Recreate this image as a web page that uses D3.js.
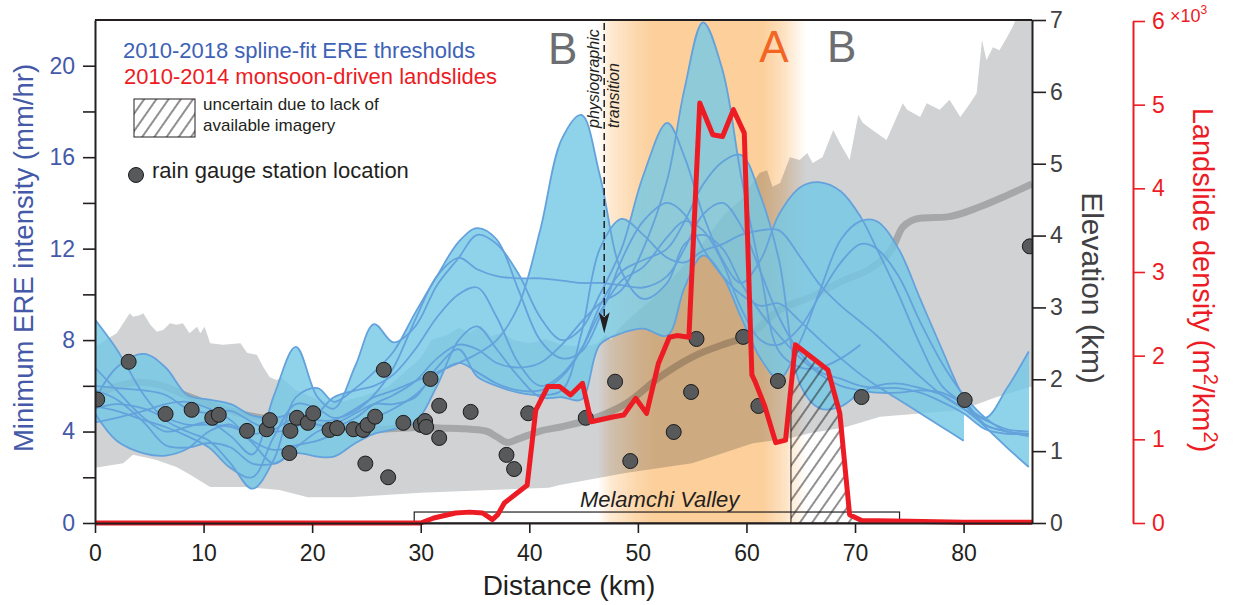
<!DOCTYPE html>
<html>
<head>
<meta charset="utf-8">
<title>ERE thresholds and landslide density along the profile</title>
<script src="https://cdnjs.cloudflare.com/ajax/libs/d3/7.8.5/d3.min.js"></script>
<style>
  body { margin: 0; background: #fff; }
  svg { display: block; font-family: "Liberation Sans", Arial, sans-serif; }
</style>
</head>
<body>
<svg id="chart" width="1239" height="605"></svg>
<script>
// ---- values ----

// common knots (km) for the spline-fit threshold curves
const knotKm = [0, 2, 4.5, 6.5, 8.5, 10.5, 12.5, 14.5, 16.5, 18.5, 20.5, 22, 24, 25.7, 27.5, 29.5, 31.5, 33.5, 35.2, 37,
  39, 41, 43, 44.8, 46.5, 48.5, 50.5, 52.7, 54.3, 56, 57.8, 59.5, 61.3, 63, 65, 66.8, 68.7, 70.5, 72, 74,
  76, 78, 80, 82, 84, 86];

// minimum ERE intensity (mm/hr), one curve per year
const ere2010 = [5.0, 5.2, 5.0, 4.6, 4.3, 4.3, 4.2, 3.9, 4.1, 4.6, 4.3, 4.2, 4.6, 5.2, 5.6, 6.2, 7.2, 7.8, 7.6, 7.0,
  6.8, 7.0, 7.8, 8.8, 9.6, 10.2, 12.0, 15.0, 19.0, 21.9, 19.8, 15.2, 11.0, 7.5, 6.8, 6.8, 7.2, 7.8, null, null,
  null, null, null, null, null, null];
const ere2011 = [5.4, 6.8, 7.4, 6.8, 5.6, 5.4, 5.2, 4.7, 4.6, 4.8, 4.5, 4.5, 5.0, 5.5, 5.8, 6.2, 6.6, 7.0, 7.4, 8.0,
  9.5, 12.8, 16.8, 17.85, 15.2, 11.0, 9.8, 10.5, 12.2, 12.6, 12.0, 10.5, 9.2, 8.2, 7.2, 6.5, 6.0, 5.8, 5.7, 5.7,
  5.8, 5.7, 5.2, 4.6, 5.9, 7.5];
const ere2012 = [8.9, 7.6, 5.6, 4.5, 4.0, 3.6, 2.6, 1.5, 2.8, 5.5, 5.9, 5.3, 5.9, 6.6, 7.5, 9.2, 10.8, 12.3, 12.9, 12.4,
  10.2, 8.0, 7.2, 7.5, 9.0, 11.5, 13.2, 14.0, 13.5, 12.0, 10.8, 10.0, 9.5, 9.6, 8.8, 8.0, 7.2, 6.5, 6.0, 5.4,
  4.8, 4.2, 3.6, null, null, null];
const ere2013 = [6.8, 5.8, 4.6, 4.0, 4.2, 4.4, 3.8, 3.0, 5.6, 7.7, 5.5, 5.0, 6.9, 8.7, 7.9, 8.6, 10.4, 11.6, 12.6, 12.2,
  10.9, 9.0, 8.0, 8.5, 10.0, 12.0, 15.2, 17.5, 16.0, 13.5, 11.5, 10.5, 11.5, 13.5, 14.7, 14.9, 14.5, 13.4, 12.0, 10.0,
  7.8, 6.0, 5.2, 4.2, 3.3, 2.45];
const ere2014 = [4.4, 4.6, 4.9, 5.2, 5.3, 5.0, 4.5, 3.6, 3.2, 3.4, 3.6, 3.9, 4.3, 4.6, 5.0, 5.6, 6.5, 7.0, 6.6, 6.1,
  5.8, 5.8, 6.4, 7.6, 9.5, 11.0, 11.5, 12.0, 13.2, 14.8, 15.8, 16.1, 14.3, 11.5, 6.0, 5.0, 5.1, 5.7, 6.0, 6.1,
  5.9, 5.6, 5.0, 4.3, 4.0, 3.9];
const ere2015 = [5.8, 5.4, 4.4, 3.4, 3.3, 3.5, 3.3, 2.6, 2.6, 3.05, 2.9, 2.9, 3.5, 3.9, 4.1, 4.4, 6.0, 8.0, 8.6, 7.6,
  6.4, 5.5, 5.5, 5.4, 7.8, 8.3, 8.5, 8.2, 10.3, 11.7, 10.8, 9.0, 7.2, 6.3, 8.0, 10.2, 12.4, 13.2, 13.2, 12.0,
  9.8, 7.6, 5.5, 4.3, 4.0, 3.8];
const ere2016 = [5.1, 4.9, 4.5, 4.2, 3.8, 3.3, 2.4, 2.0, 3.8, 5.2, 5.0, 4.6, 4.9, 5.6, 6.8, 8.9, 10.8, 11.6, 11.1, 10.8,
  10.7, 10.7, 10.6, 10.5, 10.5, 10.4, 10.3, 10.8, 12.0, 13.5, 14.0, 13.0, 11.0, 9.0, 7.4, 6.6, 6.3, 6.0, 5.9, 5.9,
  5.7, 5.3, 4.8, 4.1, 3.9, 3.9];
const ere2017 = [4.8, 3.6, 3.05, 2.95, 3.25, 4.0, 4.3, 3.5, 2.6, 3.3, 4.0, 4.3, 4.8, 5.2, 5.2, 5.5, 6.8, 7.6, 6.4, 6.0,
  5.7, 5.6, 5.8, 8.3, 12.0, 13.3, 12.6, 11.6, 11.4, 11.9, 12.2, 12.6, 12.8, 12.8, 11.6, 10.4, 9.5, 8.8, 8.2, 7.3,
  6.4, 5.6, 5.0, 4.5, 4.1, 4.0];
const ere2018 = [6.0, 5.9, 5.8, 5.6, 5.0, 4.8, 4.9, 4.4, 4.0, 4.2, 4.8, 5.5, 5.8, 6.0, 6.5, 7.6, 9.0, 10.0, 10.3, 9.0,
  7.0, 6.0, 6.5, 7.6, 9.2, 10.6, 11.2, 12.5, 13.2, 12.8, 11.4, 9.4, 8.0, 7.8, 8.6, 10.0, 11.4, 12.2, 12.0, 10.8,
  8.8, 7.0, 5.6, 4.6, 4.0, 3.9];
const ereCurves = [ere2010, ere2011, ere2012, ere2013, ere2014, ere2015, ere2016, ere2017, ere2018];

// rain gauge stations
const stationKm = [0.2, 3.1, 6.5, 8.9, 10.8, 11.4, 14.0, 15.8, 16.1, 17.9, 18.0, 18.6, 19.6, 20.1, 21.6, 22.3, 23.8,
  24.7, 25.1, 24.9, 25.8, 26.6, 27.0, 28.4, 30.0, 30.4, 30.5, 30.9, 31.7, 31.7, 34.6, 37.9, 38.6, 39.9, 45.2, 47.9,
  49.3, 53.3, 54.9, 55.4, 59.7, 61.1, 62.9, 70.6, 80.1, 86.1];
const stationEre = [5.4, 7.05, 4.77, 4.95, 4.6, 4.73, 4.03, 4.1, 4.5, 3.06, 4.03, 4.6, 4.38, 4.8, 4.07, 4.15, 4.1,
  4.07, 4.29, 2.6, 4.65, 6.7, 2.0, 4.38, 4.29, 4.46, 4.2, 6.3, 5.13, 3.72, 4.86, 2.98, 2.36, 4.8, 4.6, 6.18,
  2.71, 3.98, 5.73, 8.05, 8.14, 5.12, 6.21, 5.51, 5.38, 12.1];

// landslide density (m2/km2)
const slideKm = [0, 30, 31.2, 33.2, 34.5, 35.7, 36.6, 37.1, 37.7, 38.7, 39.8, 40.6, 41.7, 42.8, 43.8, 44.9, 45.7, 47.8,
  48.7, 49.8, 50.8, 51.9, 52.9, 53.6, 54.7, 55.7, 56.9, 57.8, 58.8, 59.8, 60.5, 60.8, 61.7, 62.7, 63.6, 64.5, 66.3,
  67.5, 68.6, 69.5, 70.6, 75, 80, 86.3];
const slideDensity = [0, 0, 60, 120, 130, 120, 40, 100, 240, 340, 450, 1350, 1630, 1630, 1530, 1670, 1210, 1270,
  1290, 1490, 1310, 1910, 2220, 2240, 2220, 5020, 4640, 4620, 4940, 4660, 1770, 1690, 1390, 960, 990, 2130, 1950,
  1830, 1310, 100, 30, 20, 10, 10];

// elevation swath (km)
const elevTopKm = [0, 1, 2, 3.2, 3.5, 4.1, 4.45, 5.1, 5.7, 6.3, 6.9, 7.5, 8.1, 8.7, 9.4, 9.7, 10.1, 10.6, 11.8, 13.4,
  14.0, 14.9, 15.5, 16.1, 16.7, 17.2, 18.5, 20, 21.6, 23, 25, 27, 28.5, 30, 31, 32.5, 33.5, 34.5, 35.5, 36.5,
  37.5, 38.5, 40, 41.5, 43, 45, 46.3, 47, 47.5, 48.5, 50, 52, 54, 56, 58, 59.5, 61.2, 61.9, 62.4, 63.1,
  64, 64.9, 65.6, 66.1, 67, 68, 68.6, 69.5, 70.3, 70.7, 71.6, 72.9, 73.2, 74.4, 74.8, 76, 76.6, 77.8, 78.7, 79.7,
  80.6, 81.2, 81.7, 82.1, 82.7, 83.3, 84, 84.5, 84.9, 86.3];
const elevTop = [2.45, 2.55, 2.64, 2.92, 2.87, 2.89, 2.92, 2.76, 2.66, 2.69, 2.78, 2.76, 2.78, 2.64, 2.73, 2.64, 2.73,
  2.5, 2.48, 2.5, 2.37, 2.34, 2.17, 2.03, 1.99, 2.02, 1.85, 1.75, 1.67, 1.7, 1.78, 1.9, 2.1, 2.3, 2.55, 2.62, 2.72,
  2.65, 2.75, 2.6, 2.65, 2.55, 2.5, 2.56, 2.48, 2.45, 2.5, 2.62, 2.55, 2.75, 2.95, 3.2, 3.55, 3.9, 4.3, 4.5, 4.87,
  4.91, 4.68, 4.73, 5.09, 5.05, 5.15, 5.01, 5.09, 5.47, 5.29, 5.05, 5.68, 5.57, 5.47, 5.33, 5.43, 5.84, 5.75, 5.65,
  5.84, 5.75, 5.89, 5.65, 5.84, 5.98, 6.72, 6.44, 6.62, 6.58, 6.76, 6.9, 7.04, 7.4];
const elevBottomKm = [0, 2.6, 3.5, 5.6, 7.5, 8.7, 10.6, 13.8, 17, 19.6, 23.5, 30, 36.4, 41.8, 42.8, 49, 55, 60.6, 64,
  65.8, 69, 72.3, 79.7, 83, 86.3];
const elevBottom = [0.77, 0.83, 0.95, 0.88, 0.78, 0.68, 0.5, 0.5, 0.46, 0.36, 0.36, 0.42, 0.46, 0.49, 0.53, 0.7, 0.83,
  1.11, 1.18, 1.25, 1.33, 1.48, 1.57, 1.75, 1.9];
const elevMeanKm = [0, 2, 4, 6, 8, 10, 12, 14, 16, 18, 20, 22, 24, 26, 28, 30, 32, 34, 36, 37, 38, 39, 41, 43, 46, 49,
  52, 55, 58.2, 60, 63, 66, 69, 71.6, 73.5, 74.4, 76, 78.5, 81.5, 84, 86.3];
const elevMean = [1.78, 1.9, 1.96, 1.92, 1.8, 1.68, 1.58, 1.5, 1.45, 1.42, 1.38, 1.35, 1.32, 1.3, 1.32, 1.33, 1.32,
  1.31, 1.28, 1.2, 1.12, 1.17, 1.28, 1.34, 1.46, 1.67, 2.03, 2.31, 2.5, 2.59, 2.96, 3.15, 3.38, 3.56, 3.84, 4.12,
  4.24, 4.26, 4.4, 4.56, 4.72];

// zone A shading (km) and its fade
const bandKm = [46.3, 47.5, 50, 51.5, 61.5, 63.5, 65.5];
const bandAlpha = [0, 0.45, 0.85, 1, 1, 0.6, 0];

const valleyKm = [29.4, 74.1];
const hatchKm = [64.1, 74];
const transitionKm = 46.9;

const xTicks = [0, 10, 20, 30, 40, 50, 60, 70, 80];
const ereTicks = [0, 2, 4, 6, 8, 10, 12, 14, 16, 18, 20];
const elevTicks = [0, 1, 2, 3, 4, 5, 6, 7];
const densityTicks = [0, 1000, 2000, 3000, 4000, 5000, 6000];

// ---- scales ----
const svg = d3.select('#chart');
const plot = { left: 95, right: 1032, top: 20, bottom: 523 };
const x = d3.scaleLinear([0, 86.3], [plot.left, plot.right]);
const yEre = d3.scaleLinear([0, 22], [plot.bottom, plot.top]);
const yElev = d3.scaleLinear([0, 7], [plot.bottom, plot.top]);
const yDen = d3.scaleLinear([0, 6000], [plot.bottom, 21]);

const ink = '#231f20';
const blueText = '#4459a8';
const red = '#ed1c24';

// ---- defs ----
const defs = svg.append('defs');
defs.append('clipPath').attr('id', 'plotClip')
  .append('rect').attr('x', plot.left).attr('y', plot.top)
  .attr('width', plot.right - plot.left).attr('height', plot.bottom - plot.top);

const hatch = defs.append('pattern').attr('id', 'hatch')
  .attr('patternUnits', 'userSpaceOnUse').attr('width', 10).attr('height', 10)
  .attr('patternTransform', 'rotate(35)');
hatch.append('line').attr('x1', 5).attr('y1', -1).attr('x2', 5).attr('y2', 11)
  .attr('stroke', ink).attr('stroke-width', 1);

const grad = defs.append('linearGradient').attr('id', 'bandGrad')
  .attr('gradientUnits', 'userSpaceOnUse')
  .attr('x1', x(bandKm[0])).attr('x2', x(bandKm[bandKm.length - 1])).attr('y1', 0).attr('y2', 0);
bandKm.forEach((k, i) => {
  grad.append('stop')
    .attr('offset', (k - bandKm[0]) / (bandKm[bandKm.length - 1] - bandKm[0]))
    .attr('stop-color', '#fccf9b').attr('stop-opacity', bandAlpha[i]);
});

const slideArea = d3.area()
  .x((d, i) => x(slideKm[i])).y0(yDen(0)).y1((d, i) => yDen(slideDensity[i]));
defs.append('clipPath').attr('id', 'hatchClip')
  .append('path').attr('d', slideArea(slideKm));

const plotG = svg.append('g').attr('clip-path', 'url(#plotClip)');

// 1. elevation swath
const swathPts = elevTopKm.map((k, i) => [x(k), yElev(elevTop[i])])
  .concat(elevBottomKm.map((k, i) => [x(k), yElev(elevBottom[i])]).reverse());
plotG.append('path').attr('d', d3.line()(swathPts) + 'Z').attr('fill', '#d1d2d4');

// mean elevation
plotG.append('path')
  .attr('d', d3.line().x((d, i) => x(elevMeanKm[i])).y((d, i) => yElev(elevMean[i]))
    .curve(d3.curveMonotoneX)(elevMeanKm))
  .attr('fill', 'none').attr('stroke', '#a6a7a9').attr('stroke-width', 7)
  .attr('stroke-linejoin', 'round');

// 2. zone A band
plotG.append('rect')
  .attr('x', x(bandKm[0])).attr('y', plot.top)
  .attr('width', x(bandKm[bandKm.length - 1]) - x(bandKm[0])).attr('height', plot.bottom - plot.top)
  .attr('fill', 'url(#bandGrad)').style('mix-blend-mode', 'multiply');

// 3. envelope of the threshold curves: union of the areas between every pair
const curve = d3.curveCatmullRom;
const fillG = plotG.append('g').attr('opacity', 0.8);
for (let a = 0; a < ereCurves.length; a++) {
  for (let b = a + 1; b < ereCurves.length; b++) {
    const ca = ereCurves[a], cb = ereCurves[b];
    const area = d3.area()
      .defined((d, i) => ca[i] != null && cb[i] != null)
      .x((d, i) => x(knotKm[i]))
      .y0((d, i) => yEre(ca[i]))
      .y1((d, i) => yEre(cb[i]))
      .curve(curve);
    fillG.append('path').attr('d', area(knotKm)).attr('fill', '#73c9e7');
  }
}

const ereLine = d3.line()
  .defined(v => v != null)
  .x((v, i) => x(knotKm[i]))
  .y(v => yEre(v))
  .curve(curve);
plotG.append('g').selectAll('path').data(ereCurves).join('path')
  .attr('d', ereLine)
  .attr('fill', 'none').attr('stroke', '#64a2dc').attr('stroke-width', 1.8);

// 4. hatched uncertain zone
const hatchG = plotG.append('g').attr('clip-path', 'url(#hatchClip)');
hatchG.append('rect')
  .attr('x', x(hatchKm[0])).attr('y', plot.top)
  .attr('width', x(hatchKm[1]) - x(hatchKm[0])).attr('height', plot.bottom - plot.top)
  .attr('fill', 'url(#hatch)');
hatchG.append('line')
  .attr('x1', x(hatchKm[0])).attr('x2', x(hatchKm[0]))
  .attr('y1', plot.bottom).attr('y2', plot.top)
  .attr('stroke', ink).attr('stroke-width', 1);

// 5. Melamchi Valley
svg.append('rect')
  .attr('x', x(valleyKm[0])).attr('y', yEre(0.48))
  .attr('width', x(valleyKm[1]) - x(valleyKm[0])).attr('height', yEre(0) - yEre(0.48))
  .attr('fill', 'none').attr('stroke', ink).attr('stroke-width', 1.2);
svg.append('text')
  .attr('x', x(52)).attr('y', 507)
  .attr('text-anchor', 'middle').attr('font-style', 'italic').attr('font-size', 22).attr('fill', ink)
  .text('Melamchi Valley');

// 6. landslide density
svg.append('path')
  .attr('d', d3.line().x((d, i) => x(slideKm[i])).y((d, i) => yDen(slideDensity[i]))(slideKm))
  .attr('fill', 'none').attr('stroke', red).attr('stroke-width', 5)
  .attr('stroke-linejoin', 'round');

// 7. rain gauges
plotG.append('g').selectAll('circle').data(stationKm).join('circle')
  .attr('cx', d => x(d)).attr('cy', (d, i) => yEre(stationEre[i])).attr('r', 7.5)
  .attr('fill', '#58595b').attr('stroke', '#1a1a1a').attr('stroke-width', 1);

// 8. physiographic transition
const ax = x(transitionKm);
const tipY = yEre(8.3);
svg.append('line')
  .attr('x1', ax).attr('x2', ax).attr('y1', plot.top + 3).attr('y2', tipY - 16)
  .attr('stroke', ink).attr('stroke-width', 1.5).attr('stroke-dasharray', '7,4');
svg.append('path')
  .attr('d', `M${ax},${tipY} L${ax - 5.5},${tipY - 21} L${ax},${tipY - 16} L${ax + 5.5},${tipY - 21} Z`)
  .attr('fill', ink);
svg.append('text').attr('transform', 'translate(599,128) rotate(-90)')
  .attr('font-style', 'italic').attr('font-size', 16).attr('fill', ink).text('physiographic');
svg.append('text').attr('transform', 'translate(619,128) rotate(-90)')
  .attr('font-style', 'italic').attr('font-size', 16).attr('fill', ink).text('transition');

// zone letters
svg.append('text').attr('x', 548).attr('y', 64).attr('font-size', 44).attr('fill', '#6d6e71').text('B');
svg.append('text').attr('x', 774).attr('y', 62).attr('text-anchor', 'middle')
  .attr('font-size', 44).attr('fill', '#f26522').text('A');
svg.append('text').attr('x', 827).attr('y', 62).attr('font-size', 44).attr('fill', '#6d6e71').text('B');

// ---- axes ----
function styleAxis(g, color, textColor, size) {
  g.attr('font-family', '"Liberation Sans", Arial, sans-serif').attr('font-size', size);
  g.select('.domain').attr('stroke', color).attr('stroke-width', 2);
  g.selectAll('.tick line').attr('stroke', color).attr('stroke-width', 1.6);
  g.selectAll('.tick text').attr('fill', textColor);
}

svg.append('line').attr('x1', plot.left).attr('x2', plot.right).attr('y1', plot.top).attr('y2', plot.top)
  .attr('stroke', ink).attr('stroke-width', 2);

const gLeft = svg.append('g').attr('transform', `translate(${plot.left},0)`)
  .call(d3.axisLeft(yEre).tickValues(ereTicks).tickFormat(d => d % 4 === 0 ? d : '')
    .tickSize(12).tickPadding(8).tickSizeOuter(0));
styleAxis(gLeft, ink, blueText, 23);

const gBottom = svg.append('g').attr('transform', `translate(0,${plot.bottom})`)
  .call(d3.axisBottom(x).tickValues(xTicks).tickSize(10).tickPadding(12).tickSizeOuter(0));
styleAxis(gBottom, ink, ink, 23);

const gElev = svg.append('g').attr('transform', `translate(${plot.right},0)`)
  .call(d3.axisRight(yElev).tickValues(elevTicks).tickFormat(d3.format('d'))
    .tickSize(14).tickPadding(4).tickSizeOuter(0));
styleAxis(gElev, ink, '#414042', 23);

const gDen = svg.append('g').attr('transform', 'translate(1133,0)')
  .call(d3.axisRight(yDen).tickValues(densityTicks).tickFormat(d => d / 1000)
    .tickSize(12).tickPadding(7).tickSizeOuter(0));
styleAxis(gDen, red, red, 23);

const xe = svg.append('text').attr('x', 1170).attr('y', 22).attr('font-size', 18).attr('fill', red);
xe.append('tspan').text('\u00d710');
xe.append('tspan').attr('dy', -8).attr('font-size', 12).text('3');

// axis titles
svg.append('text').attr('transform', 'translate(33,258) rotate(-90)')
  .attr('text-anchor', 'middle').attr('font-size', 27.5).attr('fill', blueText)
  .text('Minimum ERE intensity (mm/hr)');
svg.append('text').attr('x', 569).attr('y', 595)
  .attr('text-anchor', 'middle').attr('font-size', 28).attr('fill', ink).text('Distance (km)');
svg.append('text').attr('transform', 'translate(1082,288) rotate(90)')
  .attr('text-anchor', 'middle').attr('font-size', 30).attr('fill', '#414042').text('Elevation (km)');
const dl = svg.append('text').attr('transform', 'translate(1193,280) rotate(90)')
  .attr('text-anchor', 'middle').attr('font-size', 29).attr('fill', red);
dl.append('tspan').text('Landslide density (m');
dl.append('tspan').attr('dy', -11).attr('font-size', 20).text('2');
dl.append('tspan').attr('dy', 11).text('/km');
dl.append('tspan').attr('dy', -11).attr('font-size', 20).text('2');
dl.append('tspan').attr('dy', 11).text(')');

// ---- legend ----
svg.append('text').attr('x', 123).attr('y', 58).attr('font-size', 22).attr('fill', '#3d62b6')
  .text('2010-2018 spline-fit ERE thresholds');
svg.append('text').attr('x', 124).attr('y', 84).attr('font-size', 22).attr('fill', red)
  .text('2010-2014 monsoon-driven landslides');
svg.append('rect').attr('x', 134).attr('y', 99).attr('width', 61).attr('height', 38)
  .attr('fill', 'url(#hatch)').attr('stroke', ink).attr('stroke-width', 1);
svg.append('text').attr('x', 203).attr('y', 110).attr('font-size', 17).attr('fill', ink)
  .text('uncertain due to lack of');
svg.append('text').attr('x', 203).attr('y', 131).attr('font-size', 17).attr('fill', ink)
  .text('available imagery');
svg.append('circle').attr('cx', 136).attr('cy', 175).attr('r', 7.5)
  .attr('fill', '#58595b').attr('stroke', '#1a1a1a').attr('stroke-width', 1);
svg.append('text').attr('x', 152).attr('y', 178).attr('font-size', 22).attr('fill', ink)
  .text('rain gauge station location');
</script>
</body>
</html>
